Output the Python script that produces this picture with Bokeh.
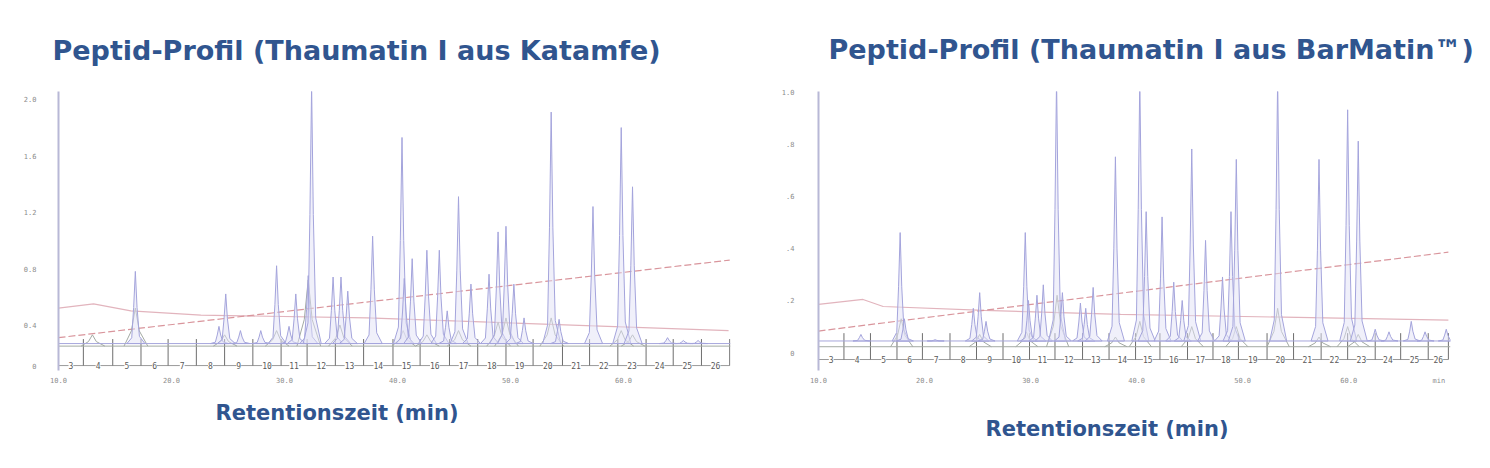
from bokeh.plotting import figure
from bokeh.layouts import row
from bokeh.models import Title, FixedTicker, Range1d
from bokeh.embed import file_html
from bokeh.resources import INLINE
from bokeh.core.properties import value

TITLE_COLOR = "#30558f"
TITLE_L = "Peptid-Profil (Thaumatin I aus Katamfe)"
TITLE_R = "Peptid-Profil (Thaumatin I aus BarMatin\u2122)"
XLABEL = "Retentionszeit (min)"

# ---------------- left panel (Katamfe) ----------------
L_RANGE_T = [10.0, 69.47]
L_RANGE_V = [0.077, 2.056]
L_PEAK_T = [16.8, 24.2, 24.8, 26.1, 27.9, 29.3, 30.4, 31.0, 32.1, 32.4, 34.3, 35.0,
            35.6, 37.8, 40.4, 40.6, 41.3, 42.6, 43.7, 44.4, 45.4, 46.5, 48.1, 48.9,
            49.6, 50.3, 51.2, 53.6, 54.3, 57.3, 59.8, 60.8, 63.9, 65.3, 66.6]
L_PEAK_V = [0.78, 0.39, 0.62, 0.36, 0.36, 0.82, 0.39, 0.62, 0.75, 2.10, 0.74, 0.74,
            0.64, 1.03, 1.73, 0.73, 0.87, 0.93, 0.93, 0.50, 1.31, 0.69, 0.76, 1.06,
            1.10, 0.69, 0.45, 1.91, 0.44, 1.24, 1.80, 1.38, 0.31, 0.29, 0.29]
L_BASE = 0.268
L_UV2_T = [13.0, 16.8, 24.7, 29.3, 32.1, 34.9, 40.5, 42.6, 45.4, 48.9, 49.6, 53.6, 59.8, 60.8]
L_UV2_V = [0.33, 0.52, 0.33, 0.36, 0.72, 0.40, 0.36, 0.33, 0.36, 0.42, 0.45, 0.45, 0.36, 0.33]
L_UV2_BASE = 0.25
L_GRAD_T = [10.0, 69.4]
L_GRAD_V = [0.31, 0.86]
L_PRES_T = [10.0, 13.1, 16.4, 22.6, 37.3, 69.3]
L_PRES_V = [0.52, 0.55, 0.50, 0.47, 0.45, 0.36]
L_FRAC_EDGES = [10.0, 12.2, 14.8, 17.3, 19.7, 22.2, 24.7, 27.2, 29.7, 32.0, 34.5, 37.0,
                39.6, 42.0, 44.6, 47.1, 49.6, 52.0, 54.6, 57.0, 59.5, 62.0, 64.4, 66.9, 69.4]
L_FRAC_LABELS = ["3", "4", "5", "6", "7", "8", "9", "10", "11", "12", "13", "14", "15",
                 "16", "17", "18", "19", "20", "21", "22", "23", "24", "25", "26"]
L_FRAC_ROW_V = 0.112
L_FRAC_TOP_V = 0.30
L_YTICKS = [0.112, 0.4, 0.8, 1.2, 1.6, 2.0]
L_YLABELS = ["0", "0.4", "0.8", "1.2", "1.6", "2.0"]
L_XTICKS = [10, 20, 30, 40, 50, 60]
L_XLABELS = ["10.0", "20.0", "30.0", "40.0", "50.0", "60.0"]

# ---------------- right panel (BarMatin) ----------------
R_RANGE_T = [10.0, 69.6]
R_RANGE_V = [-0.068, 1.0]
R_PEAK_T = [14.0, 17.7, 18.1, 21.0, 24.6, 25.2, 25.8, 29.5, 29.8, 30.6, 31.2, 32.45, 33.0,
            34.7, 35.2, 35.9, 38.0, 40.3, 40.9, 42.4, 43.5, 44.3, 45.2, 46.5, 48.1,
            48.9, 49.4, 53.3, 57.2, 59.9, 60.9, 62.5, 63.8, 65.9, 67.2, 69.2]
R_PEAK_V = [0.07, 0.46, 0.13, 0.05, 0.17, 0.23, 0.12, 0.46, 0.20, 0.22, 0.26, 1.05, 0.23,
            0.19, 0.17, 0.25, 0.75, 1.05, 0.54, 0.52, 0.27, 0.20, 0.78, 0.43, 0.29,
            0.54, 0.74, 1.05, 0.74, 0.93, 0.81, 0.09, 0.08, 0.12, 0.08, 0.09]
R_BASE = 0.045
R_UV2_T = [17.8, 25.2, 29.6, 32.5, 38.0, 40.3, 45.2, 49.4, 53.3, 57.2, 59.9, 60.9]
R_UV2_V = [0.13, 0.07, 0.08, 0.22, 0.06, 0.12, 0.10, 0.10, 0.17, 0.06, 0.10, 0.07]
R_UV2_BASE = 0.023
R_GRAD_T = [10.0, 69.4]
R_GRAD_V = [0.083, 0.385]
R_PRES_T = [10.0, 14.2, 16.1, 25.6, 38.5, 69.4]
R_PRES_V = [0.185, 0.204, 0.177, 0.162, 0.147, 0.125]
R_FRAC_EDGES = [10.0, 12.4, 14.9, 17.4, 19.8, 22.4, 24.9, 27.4, 29.9, 32.3, 34.9, 37.4,
                39.9, 42.2, 44.8, 47.2, 49.6, 52.3, 54.8, 57.4, 59.9, 62.5, 64.9, 67.5, 69.4]
R_FRAC_LABELS = ["3", "4", "5", "6", "7", "8", "9", "10", "11", "12", "13", "14", "15",
                 "16", "17", "18", "19", "20", "21", "22", "23", "24", "25", "26"]
R_FRAC_ROW_V = -0.026
R_FRAC_TOP_V = 0.075
R_YTICKS = [0.0, 0.2, 0.4, 0.6, 0.8, 1.0]
R_YLABELS = ["0", ".2", ".4", ".6", ".8", "1.0"]
R_XTICKS = [10, 20, 30, 40, 50, 60, 68.5]
R_XLABELS = ["10.0", "20.0", "30.0", "40.0", "50.0", "60.0", "min"]

# peak outline shape (style)
SHAPE_DT = [-0.75, -0.32, -0.15, 0.0, 0.15, 0.36, 0.85]
SHAPE_FR = [0.0, 0.08, 0.5, 1.0, 0.5, 0.1, 0.0]
UV2_DT = [-1.0, -0.35, 0.0, 0.35, 1.1]
UV2_FR = [0.0, 0.4, 1.0, 0.4, 0.0]


def shapes(ts, vs, base, dts, frs):
    xs, ys = [], []
    for t, v in zip(ts, vs):
        h = v - base
        xs.append([t + d for d in dts])
        ys.append([base + f * h for f in frs])
    return xs, ys


def panel(title, title_offset, title_standoff, xl_offset, xl_standoff, w, h, borders, rt, rv,
          peak_t, peak_v, base, uv2_t, uv2_v, uv2_base, grad_t, grad_v,
          pres_t, pres_v, edges, flabels, frow, ftop, yticks, ylabels,
          xticks, xlabels, ylab_standoff):
    bl, br, bt, bb = borders
    p = figure(width=w, height=h, x_range=Range1d(*rt), y_range=Range1d(*rv),
               output_backend="svg", toolbar_location=None,
               min_border_left=bl, min_border_right=br,
               min_border_top=bt, min_border_bottom=bb)
    p.grid.visible = False
    p.outline_line_color = None
    p.add_layout(Title(text=title, text_font="DejaVu Sans", text_font_size="27px",
                       text_font_style="bold", text_color=TITLE_COLOR, align="left",
                       offset=title_offset, standoff=title_standoff), "above")

    xa = p.xaxis[0]
    xa.ticker = FixedTicker(ticks=xticks)
    xa.major_label_overrides = {t: l for t, l in zip(xticks, xlabels)}
    xa.axis_line_color = None
    xa.major_tick_line_color = None
    xa.minor_tick_line_color = None
    xa.major_label_text_font = "DejaVu Sans Mono"
    xa.major_label_text_font_size = "7px"
    xa.major_label_text_color = "#8c8c8c"
    xa.major_label_standoff = 0
    p.add_layout(Title(text=XLABEL, text_font="DejaVu Sans", text_font_size="21px",
                       text_font_style="bold", text_color=TITLE_COLOR, align="left",
                       offset=xl_offset, standoff=xl_standoff), "below")

    ya = p.yaxis[0]
    ya.ticker = FixedTicker(ticks=yticks)
    ya.major_label_overrides = {t: l for t, l in zip(yticks, ylabels)}
    ya.axis_line_color = "#b8b8d6"
    ya.axis_line_width = 2
    ya.major_tick_line_color = None
    ya.minor_tick_line_color = None
    ya.major_label_text_font = "DejaVu Sans Mono"
    ya.major_label_text_font_size = "7px"
    ya.major_label_text_color = "#8c8c8c"
    ya.major_label_standoff = ylab_standoff

    # pressure-like pink trace and gradient line
    p.line(pres_t, pres_v, line_color="#e2b4bd", line_width=1.2)
    p.line(grad_t, grad_v, line_color="#d9959c", line_width=1.2, line_dash="7 3")

    # fraction collector row
    p.segment(x0=[rt[0]], y0=[frow], x1=[edges[-1]], y1=[frow], line_color="#9a9a9a", line_width=1)
    p.segment(x0=edges[1:], y0=[frow] * (len(edges) - 1), x1=edges[1:],
              y1=[ftop] * (len(edges) - 1), line_color="#6e6e6e", line_width=1)
    mids = [(a + b) / 2 for a, b in zip(edges[:-1], edges[1:])]
    p.text(x=mids, y=[frow] * len(mids), text=flabels, text_align="center",
           text_baseline="middle", text_font=value("DejaVu Sans Mono"),
           text_font_size=value("8px"), text_color="#5a5a5a",
           background_fill_color="white")

    # second detector channel (grey)
    p.segment(x0=[rt[0]], y0=[uv2_base], x1=[rt[1]], y1=[uv2_base], line_color="#a3aaa3", line_width=1)
    gx, gy = shapes(uv2_t, uv2_v, uv2_base, UV2_DT, UV2_FR)
    p.multi_line(gx, gy, line_color="#a3aaa3", line_width=1)

    # main chromatogram (blue)
    p.segment(x0=[rt[0]], y0=[base], x1=[rt[1]], y1=[base], line_color="#a6a6dc", line_width=1)
    bx, by = shapes(peak_t, peak_v, base, SHAPE_DT, SHAPE_FR)
    p.patches(bx, by, fill_color="#e2e2f6", fill_alpha=0.5, line_color="#a4a4dc", line_width=1)
    return p


left = panel(TITLE_L, -6, 51, 157, 27, 753, 468, (58, 23, 91, 95), L_RANGE_T, L_RANGE_V,
             L_PEAK_T, L_PEAK_V, L_BASE, L_UV2_T, L_UV2_V, L_UV2_BASE, L_GRAD_T, L_GRAD_V,
             L_PRES_T, L_PRES_V, L_FRAC_EDGES, L_FRAC_LABELS, L_FRAC_ROW_V, L_FRAC_TOP_V,
             L_YTICKS, L_YLABELS, L_XTICKS, L_XLABELS, 16)
right = panel(TITLE_R, 10, 54, 167, 55, 737, 468, (65, 40, 91, 95), R_RANGE_T, R_RANGE_V,
              R_PEAK_T, R_PEAK_V, R_BASE, R_UV2_T, R_UV2_V, R_UV2_BASE, R_GRAD_T, R_GRAD_V,
              R_PRES_T, R_PRES_V, R_FRAC_EDGES, R_FRAC_LABELS, R_FRAC_ROW_V, R_FRAC_TOP_V,
              R_YTICKS, R_YLABELS, R_XTICKS, R_XLABELS, 18)

layout = row(left, right)
open("out.html", "w").write(file_html(layout, INLINE))
